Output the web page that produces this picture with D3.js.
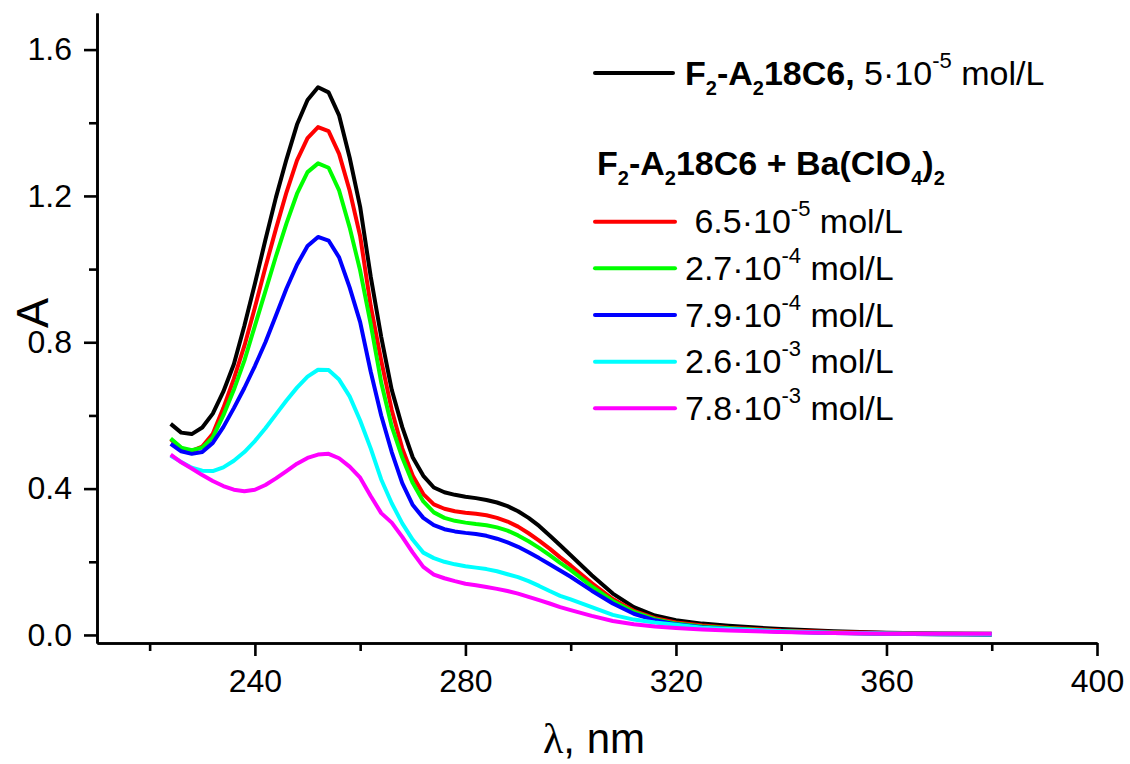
<!DOCTYPE html>
<html>
<head>
<meta charset="utf-8">
<script src="https://cdn.jsdelivr.net/npm/d3@7"></script>
<style>
  body { margin: 0; background: #fff; }
  text { font-family: Arial, "Liberation Sans", sans-serif; fill: #000; }
</style>
</head>
<body>
<svg id="chart" width="1130" height="764"></svg>
<script>
// wavelength, nm
const wavelengths = [224, 226, 228, 230, 232, 234, 236, 238, 240, 242,
  244, 246, 248, 250, 252, 254, 256, 258, 260, 262,
  264, 266, 268, 270, 272, 274, 276, 278, 280, 282,
  284, 286, 288, 290, 292, 294, 296, 298, 300,
  304, 308, 312, 316, 320, 325, 330, 340, 350, 360, 370, 380];

// absorbance for each solution
const ligandOnly = [0.577, 0.553, 0.549, 0.567, 0.605, 0.665, 0.74, 0.845, 0.96, 1.08,
  1.196, 1.30, 1.395, 1.462, 1.497, 1.483, 1.42, 1.305, 1.17, 0.98,
  0.815, 0.67, 0.568, 0.485, 0.435, 0.403, 0.39, 0.383, 0.378, 0.374,
  0.369, 0.362, 0.352, 0.338, 0.32, 0.298, 0.272, 0.245, 0.218,
  0.163, 0.113, 0.076, 0.053, 0.04, 0.031, 0.025, 0.016, 0.01, 0.006, 0.004, 0.003];
const ba65e5 = [0.535, 0.51, 0.503, 0.515, 0.55, 0.62, 0.70, 0.79, 0.895, 1.005,
  1.11, 1.21, 1.297, 1.358, 1.388, 1.377, 1.315, 1.215, 1.09, 0.90,
  0.75, 0.615, 0.51, 0.435, 0.385, 0.357, 0.345, 0.338, 0.334, 0.331,
  0.327, 0.32, 0.31, 0.296, 0.278, 0.258, 0.236, 0.212, 0.19,
  0.142, 0.098, 0.066, 0.046, 0.034, 0.026, 0.02, 0.012, 0.008, 0.005, 0.003, 0.002];
const ba27e4 = [0.537, 0.512, 0.505, 0.512, 0.54, 0.60, 0.67, 0.75, 0.845, 0.94,
  1.035, 1.125, 1.206, 1.265, 1.289, 1.277, 1.215, 1.114, 0.996, 0.85,
  0.69, 0.57, 0.485, 0.415, 0.365, 0.335, 0.32, 0.312, 0.307, 0.303,
  0.30, 0.294, 0.285, 0.272, 0.256, 0.238, 0.218, 0.197, 0.177,
  0.133, 0.093, 0.063, 0.043, 0.031, 0.023, 0.018, 0.01, 0.006, 0.003, 0.002, 0.001];
const ba79e4 = [0.522, 0.502, 0.495, 0.50, 0.525, 0.568, 0.62, 0.675, 0.735, 0.80,
  0.873, 0.947, 1.012, 1.063, 1.088, 1.078, 1.032, 0.95, 0.855, 0.72,
  0.60, 0.50, 0.415, 0.355, 0.32, 0.30, 0.289, 0.283, 0.279, 0.276,
  0.271, 0.263, 0.253, 0.241, 0.226, 0.21, 0.193, 0.176, 0.159,
  0.121, 0.086, 0.058, 0.04, 0.029, 0.021, 0.016, 0.009, 0.005, 0.003, 0.002, 0.001];
const ba26e3 = [0.49, 0.473, 0.457, 0.449, 0.448, 0.458, 0.476, 0.50, 0.53, 0.565,
  0.603, 0.641, 0.676, 0.706, 0.725, 0.724, 0.698, 0.652, 0.586, 0.51,
  0.425, 0.36, 0.305, 0.26, 0.225, 0.21, 0.2, 0.193, 0.188, 0.184,
  0.18, 0.174, 0.166, 0.158, 0.147, 0.134, 0.12, 0.107, 0.097,
  0.076, 0.055, 0.042, 0.034, 0.028, 0.02, 0.016, 0.01, 0.006, 0.004, 0.003, 0.002];
const ba78e3 = [0.493, 0.472, 0.455, 0.437, 0.421, 0.407, 0.397, 0.393, 0.397, 0.41,
  0.428, 0.448, 0.468, 0.484, 0.493, 0.495, 0.483, 0.46, 0.43, 0.38,
  0.333, 0.307, 0.268, 0.225, 0.186, 0.165, 0.155, 0.147, 0.14, 0.136,
  0.131, 0.126, 0.12, 0.113, 0.104, 0.095, 0.086, 0.076, 0.068,
  0.052, 0.038, 0.029, 0.023, 0.019, 0.015, 0.012, 0.008, 0.005, 0.003, 0.003, 0.003];

const seriesValues = [ligandOnly, ba65e5, ba27e4, ba79e4, ba26e3, ba78e3];
const seriesColors = ["#000000", "#ff0000", "#00ff00", "#0000ff", "#00ffff", "#ff00ff"];

// legend entries for the Ba(ClO4)2 solutions
const concMantissa = [" 6.5\u00b710", "2.7\u00b710", "7.9\u00b710", "2.6\u00b710", "7.8\u00b710"];
const concExponent = ["-5", "-4", "-4", "-3", "-3"];

const xMajorTicks = [240, 280, 320, 360, 400];
const xMinorTicks = [220, 260, 300, 340, 380];
const yMajorTicks = [0, 0.4, 0.8, 1.2, 1.6];
const yMinorTicks = [0.2, 0.6, 1.0, 1.4];

const svg = d3.select("#chart"),
  margin = { top: 13, right: 33, bottom: 121, left: 97 },
  width = +svg.attr("width") - margin.left - margin.right,
  height = +svg.attr("height") - margin.top - margin.bottom;

const g = svg.append("g").attr("transform", `translate(${margin.left},${margin.top})`);

const xScale = d3.scaleLinear().domain([210, 400]).range([0, width]);
const yScale = d3.scaleLinear().domain([-0.022, 1.70]).range([height, 0]);

const AXIS_W = 2.6;

const styleAxis = (sel) => {
  sel.select(".domain").attr("stroke", "#000").attr("stroke-width", AXIS_W);
  sel.selectAll(".tick line").attr("stroke", "#000").attr("stroke-width", AXIS_W);
  sel.selectAll(".tick text").style("font-size", "32px").attr("fill", "#000");
};

// minor ticks first, then major axes on top
g.append("g")
  .attr("transform", `translate(0,${height})`)
  .call(d3.axisBottom(xScale).tickValues(xMinorTicks).tickSize(8).tickSizeOuter(0).tickFormat(""))
  .call(styleAxis);
g.append("g")
  .call(d3.axisLeft(yScale).tickValues(yMinorTicks).tickSize(8).tickSizeOuter(0).tickFormat(""))
  .call(styleAxis);

g.append("g")
  .attr("transform", `translate(0,${height})`)
  .call(d3.axisBottom(xScale).tickValues(xMajorTicks).tickSize(13).tickPadding(13).tickSizeOuter(0).tickFormat(d3.format("d")))
  .call(styleAxis);
g.append("g")
  .call(d3.axisLeft(yScale).tickValues(yMajorTicks).tickSize(13).tickPadding(12).tickSizeOuter(0).tickFormat(d3.format(".1f")))
  .call(styleAxis);

// axis titles
svg.append("text")
  .attr("x", 594).attr("y", 753)
  .attr("text-anchor", "middle")
  .style("font-size", "42px")
  .call((t) => {
    t.append("tspan").style("font-family", "'Liberation Serif', 'Times New Roman', serif").text("\u03bb");
    t.append("tspan").text(", nm");
  });

svg.append("text")
  .attr("transform", "translate(48,313) rotate(-90)")
  .attr("text-anchor", "middle")
  .style("font-size", "45px")
  .text("A");

// spectra
const line = d3.line()
  .x((d) => xScale(d[0]))
  .y((d) => yScale(d[1]));

seriesValues.forEach((vals, i) => {
  g.append("path")
    .datum(wavelengths.map((w, j) => [w, vals[j]]))
    .attr("fill", "none")
    .attr("stroke", seriesColors[i])
    .attr("stroke-width", 4)
    .attr("stroke-linejoin", "round")
    .attr("d", line);
});

// legend
const legend = svg.append("g");
const FS = 34, SUB = 20, SUP = 22;

const addSub = (t, s, bold) => {
  t.append("tspan").attr("dy", 10).style("font-size", SUB + "px")
    .style("font-weight", bold ? "bold" : "normal").text(s);
};
const addRun = (t, s, bold, dy) => {
  const sp = t.append("tspan").style("font-weight", bold ? "bold" : "normal").text(s);
  if (dy) sp.attr("dy", dy);
  return sp;
};

legend.append("line")
  .attr("x1", 595).attr("x2", 673).attr("y1", 73).attr("y2", 73)
  .attr("stroke", seriesColors[0]).attr("stroke-width", 4).attr("stroke-linecap", "round");

const t0 = legend.append("text").attr("x", 685).attr("y", 85).style("font-size", FS + "px")
  .style("white-space", "pre");
addRun(t0, "F", true);
addSub(t0, "2", true);
addRun(t0, "-A", true, -10);
addSub(t0, "2", true);
addRun(t0, "18C6,", true, -10);
addRun(t0, " 5\u00b710", false);
t0.append("tspan").attr("dy", -17).style("font-size", SUP + "px").text("-5");
addRun(t0, " mol/L", false, 17);

const th = legend.append("text").attr("x", 597).attr("y", 175).style("font-size", FS + "px")
  .style("white-space", "pre").style("font-weight", "bold");
addRun(th, "F", true);
addSub(th, "2", true);
addRun(th, "-A", true, -10);
addSub(th, "2", true);
addRun(th, "18C6 + Ba(ClO", true, -10);
addSub(th, "4", true);
addRun(th, ")", true, -10);
addSub(th, "2", true);

concMantissa.forEach((m, i) => {
  const yLine = 221.7 + i * 46.65;
  legend.append("line")
    .attr("x1", 595).attr("x2", 675).attr("y1", yLine).attr("y2", yLine)
    .attr("stroke", seriesColors[i + 1]).attr("stroke-width", 4).attr("stroke-linecap", "round");
  const t = legend.append("text").attr("x", 685).attr("y", yLine + 11.7)
    .style("font-size", FS + "px").style("white-space", "pre");
  t.append("tspan").text(m);
  t.append("tspan").attr("dy", -17).style("font-size", SUP + "px").text(concExponent[i]);
  t.append("tspan").attr("dy", 17).text(" mol/L");
});
</script>
</body>
</html>
